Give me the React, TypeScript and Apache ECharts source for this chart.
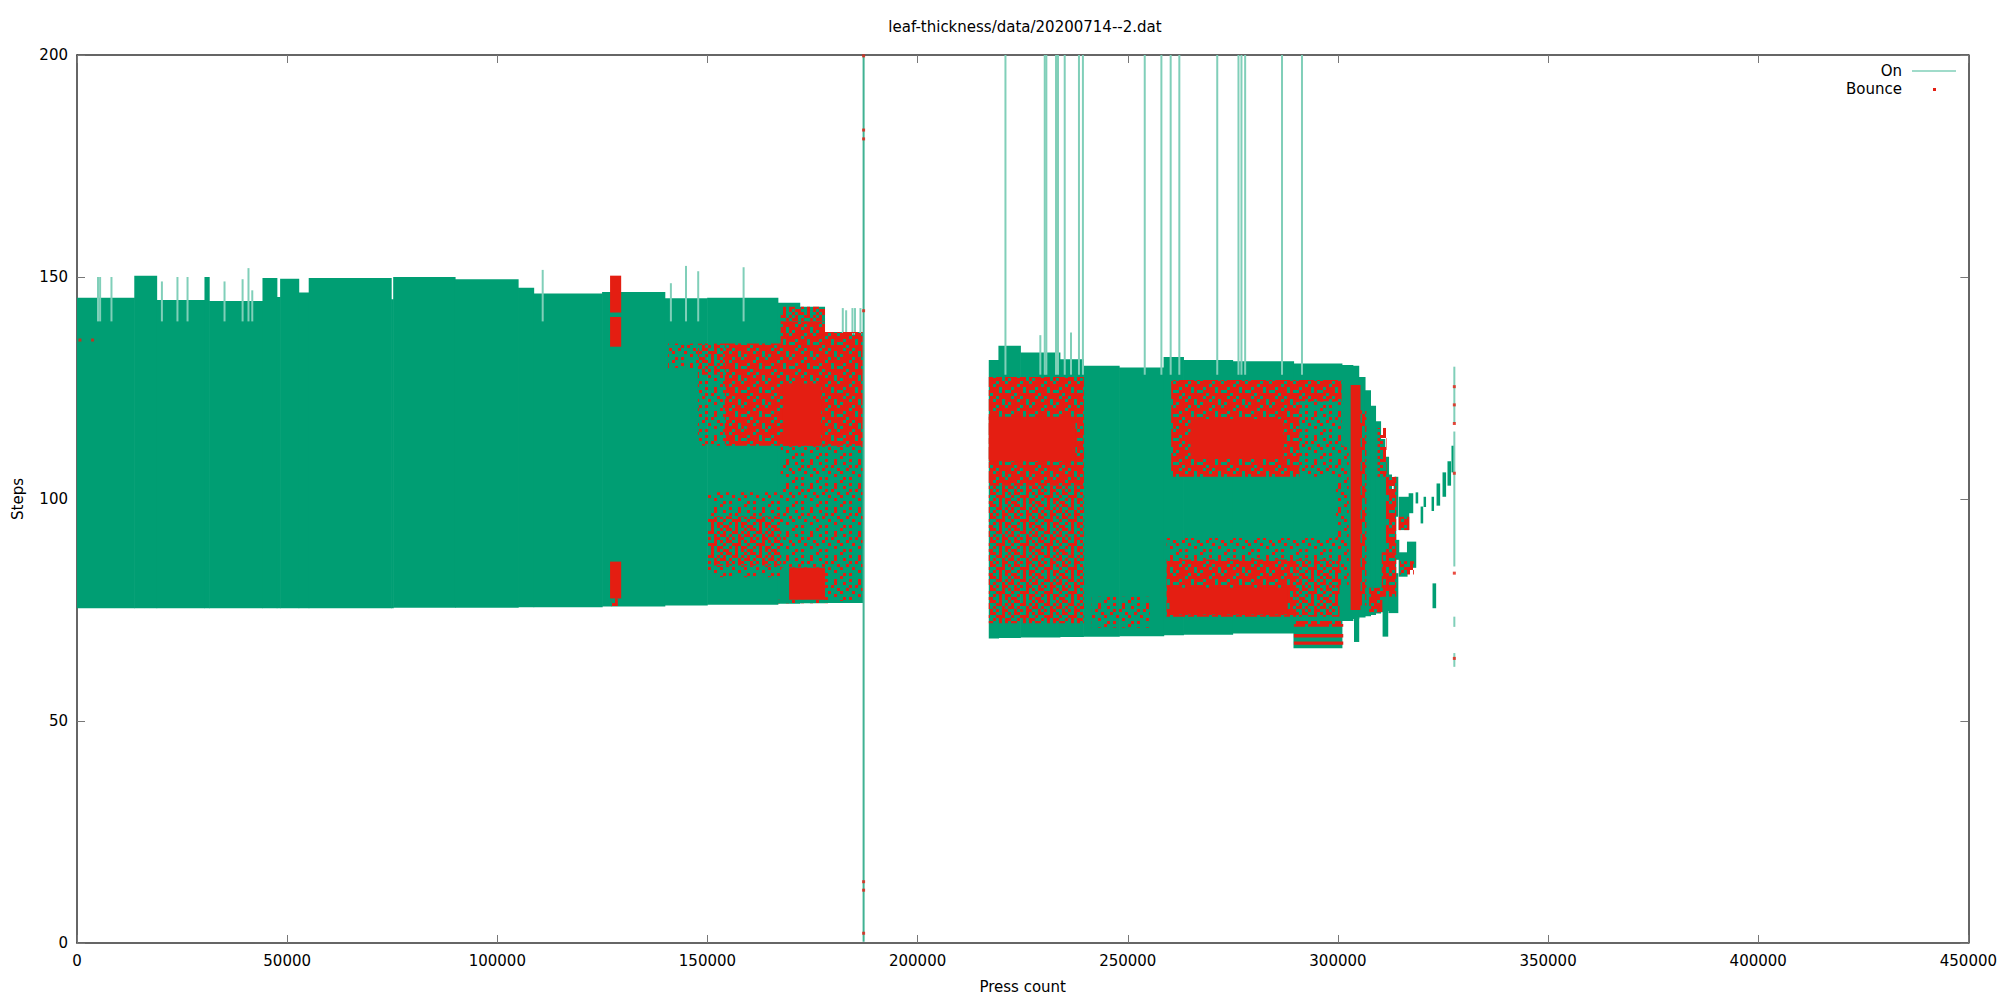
import React, { useEffect, useRef } from "react";
import * as echarts from "echarts";

const TITLE = "leaf-thickness/data/20200714--2.dat";
const X_NAME = "Press count";
const Y_NAME = "Steps";
const X_MIN = 0;
const X_MAX = 450000;
const X_STEP = 50000;
const Y_MIN = 0;
const Y_MAX = 200;
const Y_STEP = 50;

// "On": dense envelope of the impulses, [xStart, xEnd, low, high]
const ON_BANDS: number[][] = [
  [0, 13700, 75.4, 145.3],
  [13700, 19000, 75.4, 150.3],
  [19000, 30400, 75.4, 144.8],
  [30400, 31500, 75.4, 150.0],
  [31500, 44200, 75.4, 144.6],
  [44200, 47600, 75.4, 149.8],
  [47600, 48400, 75.4, 145.5],
  [48400, 52800, 75.4, 149.6],
  [52800, 55200, 75.4, 146.5],
  [55200, 74800, 75.4, 149.8],
  [74800, 75300, 75.4, 145.0],
  [75300, 90000, 75.5, 150.0],
  [90000, 105000, 75.5, 149.5],
  [105000, 108700, 75.6, 147.6],
  [108700, 125000, 75.6, 146.3],
  [125000, 139900, 75.8, 146.6],
  [139900, 150000, 76.0, 145.2],
  [150000, 166800, 76.2, 145.3],
  [166800, 172000, 76.4, 144.2],
  [172000, 177900, 76.5, 143.3],
  [177900, 187100, 76.6, 137.6],
  [217000, 219300, 68.6, 131.3],
  [219300, 224500, 68.7, 134.5],
  [224500, 233900, 68.8, 133.0],
  [233900, 239500, 68.9, 131.5],
  [239500, 248000, 69.0, 130.0],
  [248000, 258600, 69.1, 129.6],
  [258600, 263300, 69.3, 132.0],
  [263300, 275000, 69.4, 131.3],
  [275000, 289500, 69.7, 131.0],
  [289500, 301000, 66.4, 130.5],
  [301000, 303600, 72.5, 130.2],
  [303600, 305000, 73.0, 130.0],
  [305000, 306500, 73.3, 127.5],
  [306500, 307800, 73.6, 124.5],
  [307800, 309000, 73.9, 121.0],
  [309000, 310200, 74.2, 117.5],
  [310200, 311200, 74.5, 113.5],
  [311200, 312100, 74.8, 109.5],
  [312100, 312800, 75.0, 105.5],
  [312800, 313300, 75.3, 102.0],
  [313300, 313800, 75.6, 98.0],
  [303900, 305000, 67.8, 74.0],
  [310700, 311900, 69.0, 75.7],
  [312100, 314300, 74.3, 83.3],
  [313340, 314290, 96.0, 105.0],
  [314530, 316900, 93.0, 100.5],
  [316900, 317850, 96.8, 101.3],
  [318560, 319030, 99.0, 101.5],
  [319750, 320220, 94.5, 98.3],
  [320450, 320900, 98.2, 100.5],
  [322350, 322800, 97.3, 100.5],
  [323540, 324250, 98.5, 103.5],
  [324960, 325670, 100.5, 106.0],
  [326140, 326850, 103.0, 108.5],
  [327090, 327560, 106.0, 112.0],
  [313800, 314530, 86.3, 90.8],
  [314530, 316500, 82.5, 88.0],
  [316500, 318560, 84.5, 90.4],
  [322580, 323300, 75.4, 81.0],
];

// "On": isolated thin impulses, [x, low, high]
const ON_STROKES: number[][] = [
  [5000, 140, 150], [5500, 140, 150], [8200, 140, 150], [20200, 140, 149],
  [23900, 140, 150], [26300, 140, 150], [35100, 140, 149], [39400, 140, 149.5],
  [40800, 140, 152], [41700, 140, 147], [110800, 140, 151.6], [141300, 140, 148.6],
  [144900, 140, 152.5], [147800, 140, 151.3], [158600, 140, 152.2],
  [182200, 137, 143], [183000, 137, 142.5], [184500, 137, 143], [185100, 137, 143], [186400, 137, 143],
  [229200, 128, 136.9], [236500, 128, 137.5],
  [220900, 128, 200], [230250, 128, 200], [230630, 128, 200], [232930, 128, 200],
  [233400, 128, 200], [235000, 128, 200], [238390, 128, 200], [239330, 128, 200],
  [254040, 128, 200], [258000, 128, 200], [260210, 128, 200], [262270, 128, 200],
  [271290, 128, 200], [276340, 128, 200], [277050, 128, 200], [277930, 128, 200],
  [286700, 128, 200], [291450, 128, 200],
  [327700, 117, 129.8], [327700, 84.8, 115.2], [327700, 71.2, 73.5], [327700, 62.2, 65.3],
];

// "On": the full-height impulse
const ON_MAIN_STROKE: number[][] = [[187150, 0.3, 200]];

// "Bounce": dense point clouds, [xStart, xEnd, low, high, density]
const BOUNCE_REGIONS: number[][] = [
  [126900, 129400, 142.0, 150.3, 1],
  [126900, 129400, 134.3, 141.0, 1],
  [126900, 129400, 77.6, 85.9, 1],
  [127300, 128600, 75.7, 77.6, 0.5],
  [140700, 147800, 129.5, 135, 0.25],
  [147800, 154200, 128, 135, 0.5],
  [147800, 154200, 112, 128, 0.25],
  [154200, 167500, 112, 135, 0.75],
  [167500, 177900, 112, 140, 0.75],
  [177900, 187100, 112, 137.6, 0.75],
  [168000, 177000, 112, 126, 1],
  [167500, 177900, 140, 143.3, 0.5],
  [167500, 187100, 102, 112, 0.25],
  [150200, 167500, 85, 96, 0.5],
  [150200, 167500, 96, 101.5, 0.25],
  [150200, 167500, 82.4, 85, 0.25],
  [167500, 187100, 84.5, 102, 0.25],
  [169500, 177900, 77.3, 84.5, 1],
  [177900, 187100, 77, 84.5, 0.25],
  [166800, 180000, 76.5, 77.3, 0.25],
  [217000, 239500, 103, 127.5, 0.75],
  [217000, 237500, 108.5, 118.5, 1],
  [217000, 239500, 92, 103, 0.5],
  [217000, 239500, 72, 92, 0.5],
  [241500, 255200, 71, 78, 0.25],
  [260400, 290800, 105, 126.8, 0.75],
  [265000, 287000, 109, 118, 1],
  [290800, 300800, 122, 126.8, 0.75],
  [290800, 300800, 105, 122, 0.25],
  [259300, 300300, 86.4, 91.2, 0.25],
  [259300, 290000, 73.5, 86.4, 0.75],
  [260000, 288000, 74, 80, 1],
  [290000, 300300, 73.5, 86.4, 0.5],
  [289600, 301200, 71.2, 72.5, 0.75],
  [289600, 301200, 68.8, 69.6, 1],
  [289600, 301200, 67.2, 67.9, 1],
  [299600, 302500, 80, 112, 0.25],
  [303100, 305300, 75, 125.7, 1],
  [305300, 306700, 76, 120, 0.5],
  [309500, 311500, 105, 116, 0.5],
  [311500, 313800, 88, 105, 0.75],
  [310500, 313800, 78, 88, 0.75],
  [307500, 310500, 74.5, 80, 0.75],
  [314530, 316900, 93, 96, 0.75],
  [314800, 318000, 83, 86, 0.5],
];

// "Bounce": isolated points, [x, y]
const BOUNCE_POINTS: number[][] = [
  [700, 135.8], [3700, 135.8],
  [187150, 199.8], [187150, 183.1], [187150, 181.1], [187150, 142.4],
  [187150, 13.8], [187150, 11.9], [187150, 2.2],
  [327700, 125.3], [327700, 121.2], [327700, 117], [327700, 105.8], [327700, 83.3], [327700, 64.1],
];

const GREEN = "#009e73";
const GREEN_LIGHT = "#80cfb9";
const GREEN_MID = "#40b293";
const RED = "#e41e12";
const FONT = "DejaVu Sans";

// speckle textures (styling only): 8x8 grid of 3px cells
const TILES: Record<string, string[]> = {
  "0.25": [
    "#.......",
    "...#..#.",
    ".#....#.",
    "...#.#..",
    "..#....#",
    "#...#...",
    "......#.",
    ".#.#....",
  ],
  "0.5": [
    "#.##.#..",
    ".#..##.#",
    "##.#..#.",
    "..#.#.##",
    "#.##..#.",
    ".#..###.",
    "#..#.#.#",
    ".##..#.#",
  ],
  "0.75": [
    "###.####",
    "#.###.##",
    ".####.#.",
    "##.#####",
    "#.##.###",
    "###.##.#",
    ".#####.#",
    "####.##.",
  ],
};

function makePatterns() {
  const out: Record<string, any> = {};
  Object.keys(TILES).forEach((k) => {
    const c = document.createElement("canvas");
    c.width = 24;
    c.height = 24;
    const ctx = c.getContext("2d")!;
    ctx.fillStyle = RED;
    TILES[k].forEach((row, r) => {
      for (let col = 0; col < row.length; col++) {
        if (row[col] === "#") ctx.fillRect(col * 3, r * 3, 3, 3);
      }
    });
    out[k] = { image: c.toDataURL(), repeat: "repeat", imageWidth: 24, imageHeight: 24 };
  });
  return out;
}

export default function App() {
  const ref = useRef<HTMLDivElement>(null);
  useEffect(() => {
    document.body.style.margin = "0";
    if (!ref.current) return;
    const chart = echarts.init(ref.current, null, { renderer: "svg" });
    const patterns = makePatterns();

    const axisLine = { show: true, onZero: false, lineStyle: { color: "#333", width: 1.5 } };
    const axisTick = { show: true, inside: true, length: 8, lineStyle: { color: "#777", width: 1 } };
    const labelStyle = { fontFamily: FONT, fontSize: 15, color: "#000" };

    const bandItem = (fillFor: (v: number) => any) => (params: any, api: any) => {
      const x0 = api.value(0), x1 = api.value(1), lo = api.value(2), hi = api.value(3);
      const a = api.coord([x0, hi]);
      const b = api.coord([x1, lo]);
      return {
        type: "rect",
        shape: { x: a[0] - 0.3, y: a[1], width: Math.max(b[0] - a[0], 1) + 0.6, height: b[1] - a[1] },
        style: { fill: fillFor(api.value(4)) },
      };
    };
    const strokeItem = (color: string, w: number) => (params: any, api: any) => {
      const a = api.coord([api.value(0), api.value(2)]);
      const b = api.coord([api.value(0), api.value(1)]);
      return {
        type: "line",
        shape: { x1: a[0], y1: a[1], x2: b[0], y2: b[1] },
        style: { stroke: color, lineWidth: w },
      };
    };

    const option: any = {
      animation: false,
      backgroundColor: "#fff",
      title: {
        text: TITLE,
        left: 1020,
        top: 14,
        textAlign: "center",
        textStyle: { fontFamily: FONT, fontSize: 15, fontWeight: "normal", color: "#000" },
      },
      grid: { left: 77, right: 26, top: 55, bottom: 57, containLabel: false },
      xAxis: [
        {
          type: "value", min: X_MIN, max: X_MAX, interval: X_STEP, position: "bottom",
          axisLine, axisTick, splitLine: { show: false },
          axisLabel: { ...labelStyle, margin: 10, formatter: (v: number) => String(v) },
          name: X_NAME, nameLocation: "middle", nameGap: 36,
          nameTextStyle: labelStyle,
        },
        {
          type: "value", min: X_MIN, max: X_MAX, interval: X_STEP, position: "top",
          axisLine, axisTick, splitLine: { show: false }, axisLabel: { show: false },
        },
      ],
      yAxis: [
        {
          type: "value", min: Y_MIN, max: Y_MAX, interval: Y_STEP, position: "left",
          axisLine, axisTick, splitLine: { show: false },
          axisLabel: { ...labelStyle, margin: 9, formatter: (v: number) => String(v) },
          name: Y_NAME, nameLocation: "middle", nameGap: 52, nameRotate: 90,
          nameTextStyle: labelStyle,
        },
        {
          type: "value", min: Y_MIN, max: Y_MAX, interval: Y_STEP, position: "right",
          axisLine, axisTick, splitLine: { show: false }, axisLabel: { show: false },
        },
      ],
      graphic: [
        { type: "text", x: 1902, y: 71, style: { text: "On", fontFamily: FONT, fontSize: 15, fill: "#000", align: "right", verticalAlign: "middle" } },
        { type: "line", shape: { x1: 1912, y1: 71, x2: 1956, y2: 71 }, style: { stroke: GREEN_LIGHT, lineWidth: 1.5 } },
        { type: "text", x: 1902, y: 89, style: { text: "Bounce", fontFamily: FONT, fontSize: 15, fill: "#000", align: "right", verticalAlign: "middle" } },
        { type: "rect", shape: { x: 1933, y: 88, width: 3, height: 3 }, style: { fill: RED } },
      ],
      series: [
        {
          name: "On", type: "custom", clip: true, silent: true,
          encode: { x: [0, 1], y: [2, 3] },
          renderItem: bandItem(() => GREEN),
          data: ON_BANDS,
        },
        {
          name: "On", type: "custom", clip: true, silent: true,
          encode: { x: [0], y: [1, 2] },
          renderItem: strokeItem(GREEN_LIGHT, 2),
          data: ON_STROKES,
        },
        {
          name: "Bounce", type: "custom", clip: true, silent: true,
          encode: { x: [0, 1], y: [2, 3] },
          renderItem: bandItem((d: number) => (d >= 1 ? RED : patterns[String(d)])),
          data: BOUNCE_REGIONS,
        },
        {
          name: "On", type: "custom", clip: true, silent: true,
          encode: { x: [0], y: [1, 2] },
          renderItem: strokeItem(GREEN_MID, 2),
          data: ON_MAIN_STROKE,
        },
        {
          name: "Bounce", type: "scatter", silent: true,
          symbol: "rect", symbolSize: 3,
          itemStyle: { color: RED },
          data: BOUNCE_POINTS,
        },
      ],
    };
    chart.setOption(option);
    return () => chart.dispose();
  }, []);
  return <div ref={ref} style={{ width: 2000, height: 1000 }} />;
}
